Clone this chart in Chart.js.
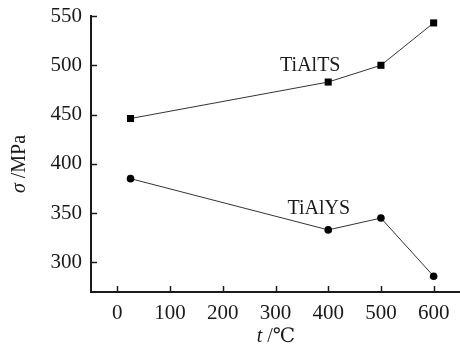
<!DOCTYPE html>
<html>
<head>
<meta charset="utf-8">
<script src="https://cdn.jsdelivr.net/npm/chart.js@4"></script>
<style>
  html, body { margin: 0; padding: 0; background: #fff; }
  #wrap { width: 460px; height: 348px; }
</style>
</head>
<body>
<div id="wrap"><canvas id="chart"></canvas></div>
<script>
// temperatures (°C) and strengths (MPa)
const temps = [25, 400, 500, 600];
const tsValues = [446, 483, 500, 543];
const ysValues = [385, 333, 345, 286];
const xTicks = [0, 100, 200, 300, 400, 500, 600];
const yTicks = [300, 350, 400, 450, 500, 550];
const seriesLabels = [
    { text: 'TiAlTS', x: 366, y: 500 },
    { text: 'TiAlYS', x: 382, y: 354 }
];

const FONT = '"Liberation Serif", "DejaVu Serif", serif';
const INK = '#1a1a1a';

const toPoints = vals => temps.map((t, i) => ({ x: t, y: vals[i] }));

// inward tick marks, series labels and axis titles
const decorations = {
    id: 'decorations',
    afterDraw(chart) {
        const ctx = chart.ctx;
        const xs = chart.scales.x, ys = chart.scales.y;
        const area = chart.chartArea;
        ctx.save();
        ctx.strokeStyle = INK;
        ctx.lineWidth = 1.5;
        xTicks.forEach(v => {
            const px = Math.round(xs.getPixelForValue(v)) + 0.5;
            ctx.beginPath();
            ctx.moveTo(px, area.bottom);
            ctx.lineTo(px, area.bottom - 6);
            ctx.stroke();
        });
        yTicks.forEach(v => {
            const py = Math.round(ys.getPixelForValue(v)) + 0.5;
            ctx.beginPath();
            ctx.moveTo(area.left, py);
            ctx.lineTo(area.left + 6, py);
            ctx.stroke();
        });

        ctx.fillStyle = INK;
        ctx.font = '20px ' + FONT;
        ctx.textAlign = 'center';
        ctx.textBaseline = 'middle';
        seriesLabels.forEach(l => {
            ctx.fillText(l.text, xs.getPixelForValue(l.x), ys.getPixelForValue(l.y));
        });

        // x title: italic t + " /℃"
        ctx.textAlign = 'left';
        ctx.textBaseline = 'alphabetic';
        ctx.font = 'italic 20px ' + FONT;
        const tW = ctx.measureText('t').width;
        ctx.font = '20px ' + FONT;
        const restW = ctx.measureText(' /℃').width;
        let sx = 276 - (tW + restW) / 2;
        ctx.font = 'italic 20px ' + FONT;
        ctx.fillText('t', sx, 342);
        ctx.font = '20px ' + FONT;
        ctx.fillText(' /℃', sx + tW, 342);

        // y title: italic σ + " /MPa", rotated
        ctx.translate(25, 164);
        ctx.rotate(-Math.PI / 2);
        ctx.font = 'italic 20px ' + FONT;
        const sW = ctx.measureText('σ').width;
        ctx.font = '20px ' + FONT;
        const mW = ctx.measureText(' /MPa').width;
        sx = -(sW + mW) / 2;
        ctx.font = 'italic 20px ' + FONT;
        ctx.fillText('σ', sx, 0);
        ctx.font = '20px ' + FONT;
        ctx.fillText(' /MPa', sx + sW, 0);
        ctx.restore();
    }
};

new Chart(document.getElementById('chart'), {
    type: 'scatter',
    data: {
        datasets: [{
            label: 'TiAlTS',
            data: toPoints(tsValues),
            showLine: true,
            borderColor: '#333',
            borderWidth: 1,
            pointStyle: 'rect',
            pointRadius: 5,
            pointBackgroundColor: '#000',
            pointBorderColor: '#000',
            pointBorderWidth: 0
        }, {
            label: 'TiAlYS',
            data: toPoints(ysValues),
            showLine: true,
            borderColor: '#333',
            borderWidth: 1,
            pointStyle: 'circle',
            pointRadius: 3.8,
            pointBackgroundColor: '#000',
            pointBorderColor: '#000',
            pointBorderWidth: 0
        }]
    },
    options: {
        responsive: true,
        maintainAspectRatio: false,
        animation: false,
        layout: { autoPadding: false, padding: { top: 16, right: 0, left: 0, bottom: 0 } },
        plugins: { legend: { display: false }, tooltip: { enabled: false } },
        scales: {
            x: {
                type: 'linear',
                min: -50,
                max: 650,
                afterBuildTicks: s => { s.ticks = xTicks.map(v => ({ value: v })); },
                afterFit: s => { s.height = 56; s.paddingLeft = 0; s.paddingRight = 0; },
                grid: { drawOnChartArea: false, drawTicks: false },
                border: { display: true, color: INK, width: 2 },
                ticks: { color: INK, padding: 9, maxRotation: 0, font: { family: FONT, size: 21 } }
            },
            y: {
                min: 270,
                max: 550,
                afterBuildTicks: s => { s.ticks = yTicks.map(v => ({ value: v })); },
                afterFit: s => { s.width = 91; s.paddingTop = 0; s.paddingBottom = 0; },
                grid: { drawOnChartArea: false, drawTicks: false },
                border: { display: true, color: INK, width: 2 },
                ticks: { color: INK, padding: 9, font: { family: FONT, size: 21 } }
            }
        }
    },
    plugins: [decorations]
});
</script>
</body>
</html>
